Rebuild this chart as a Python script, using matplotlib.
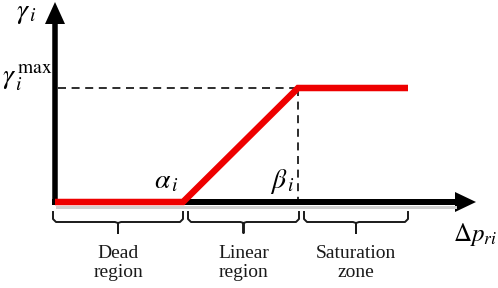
import matplotlib.pyplot as plt
import numpy as np

plt.rcParams['mathtext.fontset'] = 'stix'
plt.rcParams['font.family'] = 'Liberation Serif'

# piecewise-linear characteristic (canvas units)
x_break = [55, 183, 298, 408]
y_level = [202, 202, 88, 88]

regions = ['Dead\nregion', 'Linear\nregion', 'Saturation\nzone']
region_span = [(53, 183), (188, 299), (304, 408)]


def bracket(ax, x0, x1, top=212, bot=222, tip=233):
    xc = (x0 + x1) / 2
    r = 3
    xs = [x0, x0, x0 + r, xc - r, xc, xc, xc, xc + r, x1 - r, x1, x1]
    ys = [top, bot - r, bot, bot, bot + 1, tip, bot + 1, bot, bot, bot - r, top]
    ax.plot(xs, ys, color='#1a1a1a', lw=1.4, solid_joinstyle='round')


def output():
    fig = plt.figure(figsize=(4.98, 2.88), dpi=100)
    ax = fig.add_axes([0, 0, 1, 1])
    ax.set_xlim(0, 498)
    ax.set_ylim(288, 0)
    ax.axis('off')

    px = 72 / 100  # points per pixel

    # shadow under horizontal axis
    ax.plot([57, 455], [207, 207], color='#d0d0d0', lw=3 * px)
    # axes
    ax.plot([55, 55], [204, 22], color='black', lw=5.5 * px, solid_capstyle='butt')
    ax.fill([45, 65, 55], [24, 24, 2], color='black', lw=0)
    ax.plot([52, 457], [202, 202], color='black', lw=6 * px, solid_capstyle='butt')
    ax.fill([455, 455, 476], [192, 212, 202], color='black', lw=0)

    # dashed guides
    ax.plot([58, x_break[2]], [y_level[2], y_level[2]], color='black',
            lw=1.6 * px, dashes=(5, 3.5))
    ax.plot([x_break[2], x_break[2]], [y_level[2], y_level[0]], color='black',
            lw=1.6 * px, dashes=(5, 3.5))

    # characteristic
    ax.plot(x_break, y_level, color='#ee0000', lw=6.5 * px,
            solid_capstyle='butt', solid_joinstyle='miter')

    # brackets and region labels
    for (x0, x1), name in zip(region_span, regions):
        bracket(ax, x0, x1)
        ax.text((x0 + x1) / 2, 263, name, ha='center', va='center',
                fontsize=14, linespacing=1.2, color='#1a1a1a')

    # symbols
    ax.text(16, 13, r'$\gamma_{\,i}$', fontsize=20, ha='left', va='center')
    ax.text(2, 78, r'$\gamma_{\,i}^{\,\mathrm{max}}$', fontsize=20, ha='left', va='center')
    ax.text(154, 182, r'$\alpha_{\,i}$', fontsize=20, ha='left', va='center')
    ax.text(270, 181, r'$\beta_{\,i}$', fontsize=20, ha='left', va='center')
    ax.text(453, 234, r'$\Delta p_{ri}$', fontsize=18, ha='left', va='center')

    fig.savefig('out.png', dpi=100)


if __name__ == '__main__':
    output()
